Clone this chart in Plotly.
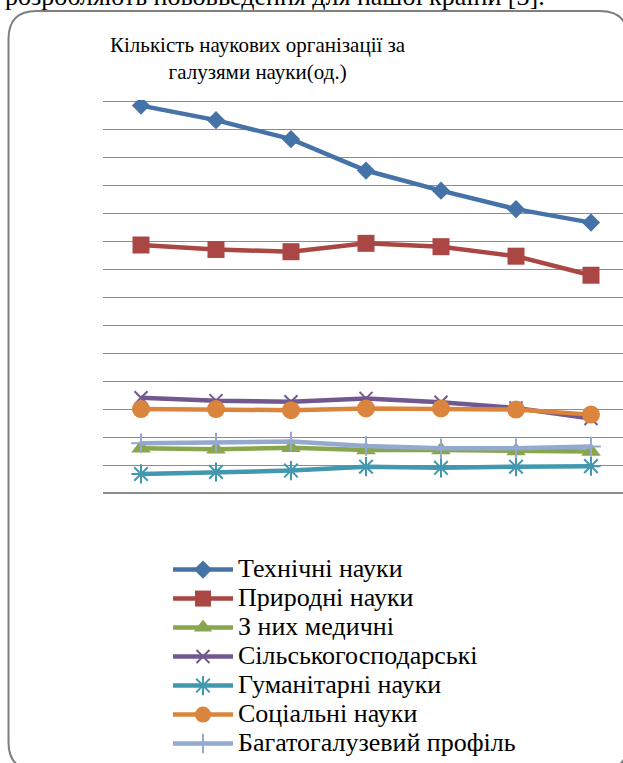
import plotly.graph_objects as go

# ---- data (axis units are not shown in the reference) ----
years = ["1", "2", "3", "4", "5", "6", "7"]
tech = [692, 666, 632, 576, 540, 507, 483]
natural = [443, 435, 431, 446, 440, 423, 389]
medical = [80, 78, 81, 77, 77, 75, 74]
agri = [170, 165, 163, 169, 162, 152, 133]
humanit = [34, 37.5, 40, 47, 45, 47, 48]
social = [150, 150, 148, 151, 151, 149, 140]
multi = [89, 90, 92, 84, 80, 80, 83]
names = ["Технічні науки", "Природні науки", "З них медичні", "Сільськогосподарські",
         "Гуманітарні науки", "Соціальні науки", "Багатогалузевий профіль"]
title_text = "Кількість наукових організації за<br>галузями науки(од.)"
top_text = "розробляють нововведення для нашої країни [3]."

W, H = 623, 763
UNIT = 27.96 / 50.0          # pixels per data unit
YTOP = 702                   # a little above 700 so the top grid line is drawn
ML, MR, MB = 103, 0, 270
MT = 101.5 - (YTOP - 700) * UNIT
PW, PH = W - ML - MR, H - MT - MB
SERIF = "Times New Roman, Liberation Serif, serif"


def pp(px, py):
    return (px - ML) / PW, (H - MB - py) / PH


series = [
    (tech, "#4572A7", "diamond", 14, None),
    (natural, "#AA4643", "square", 17, None),
    (medical, "#89A54E", "triangle-up", 17, None),
    (agri, "#71588F", "x-thin-open", 13, 2),
    (humanit, "#4198AF", "asterisk-open", 16, 2),
    (social, "#DB843D", "circle", 18, None),
    (multi, "#93A9CF", "cross-thin-open", 14, 2),
]

fig = go.Figure()
for i, (vals, col, sym, sz, lw) in enumerate(series):
    marker = dict(symbol=sym, size=sz, color=col)
    if lw:
        marker["line"] = dict(color=col, width=lw)
    else:
        marker["line"] = dict(width=0)
    fig.add_trace(go.Scatter(
        x=years, y=vals, mode="lines+markers",
        name=f'<span style="font-size:26px">{names[i]}</span>',
        line=dict(color=col, width=4.5), marker=marker,
    ))

x0 = -(141 - ML) / 75.0
x1 = x0 + PW / 75.0

fig.update_xaxes(range=[x0, x1], showticklabels=False, showgrid=False,
                 zeroline=False, showline=False, ticks="")
fig.update_yaxes(range=[0, YTOP], tick0=0, dtick=50, showticklabels=False, showgrid=True,
                 gridcolor="#8c8c8c", gridwidth=1.4, zeroline=True,
                 zerolinecolor="#8c8c8c", zerolinewidth=1.6, showline=False, ticks="")

# rounded frame
L, T, R, B, r = 8.5, 11.5, 628, 770, 28
def P(a, b):
    x, y = pp(a, b)
    return f"{x:.5f},{y:.5f}"
path = (f"M{P(L + r, T)} L{P(R - r, T)} Q{P(R, T)} {P(R, T + r)} "
        f"L{P(R, B - r)} Q{P(R, B)} {P(R - r, B)} L{P(L + r, B)} "
        f"Q{P(L, B)} {P(L, B - r)} L{P(L, T + r)} Q{P(L, T)} {P(L + r, T)} Z")
fig.add_shape(type="path", path=path, xref="paper", yref="paper",
              line=dict(color="#7f7f7f", width=2), layer="below")

tx, ty = pp(258, 59)
fig.add_annotation(text=title_text, x=tx, y=ty, xref="paper", yref="paper",
                   xanchor="center", yanchor="middle", showarrow=False,
                   font=dict(family=SERIF, size=21, color="#000"))
ax_, ay_ = pp(3, 13)
fig.add_annotation(text=top_text, x=ax_, y=ay_, xref="paper", yref="paper",
                   xanchor="left", yanchor="bottom", showarrow=False,
                   font=dict(family=SERIF, size=26, color="#000"))

lx, ly = pp(168, 550)
fig.update_layout(
    width=W, height=H,
    margin=dict(l=ML, r=MR, t=MT, b=MB, pad=0, autoexpand=False),
    paper_bgcolor="white", plot_bgcolor="white",
    showlegend=True,
    legend=dict(x=lx, y=ly, xanchor="left", yanchor="top",
                font=dict(family=SERIF, size=20, color="#000"),
                itemwidth=60, bgcolor="rgba(0,0,0,0)", tracegroupgap=0),
)

fig.write_html("out.html", config={"displayModeBar": False},
               post_script="document.body.style.margin='0px';document.body.style.padding='0px';")
